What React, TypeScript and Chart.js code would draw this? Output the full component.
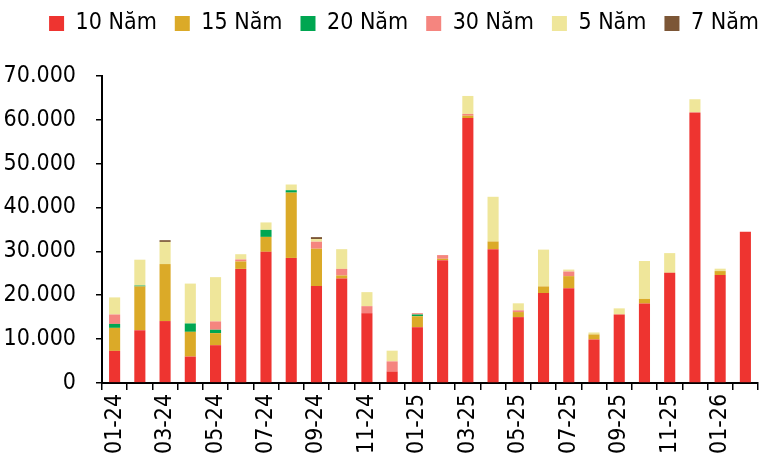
import React, { useEffect, useRef } from "react";
import { Chart, registerables } from "chart.js";

Chart.register(...registerables);

const labels = [
  "01-24", "02-24", "03-24", "04-24", "05-24", "06-24", "07-24", "08-24", "09-24", "10-24", "11-24", "12-24",
  "01-25", "02-25", "03-25", "04-25", "05-25", "06-25", "07-25", "08-25", "09-25", "10-25", "11-25", "12-25",
  "01-26", "02-26",
];

const s10 = [7300, 12000, 14100, 6000, 8600, 26000, 29900, 28500, 22100, 23800, 15900, 2600, 12700, 28000, 60400, 30500, 15000, 20500, 21600, 9900, 15600, 18100, 25100, 61700, 24600, 34500];
const s15 = [5250, 10000, 13000, 5650, 2750, 1700, 3400, 14900, 8500, 700, 0, 0, 2500, 300, 550, 1750, 1150, 1500, 2750, 1150, 0, 1050, 0, 0, 900, 0];
const s20 = [900, 200, 0, 1900, 770, 0, 1600, 550, 0, 0, 0, 0, 400, 0, 0, 0, 0, 0, 0, 0, 0, 0, 0, 0, 0, 0];
const s30 = [2150, 0, 0, 0, 1900, 450, 0, 0, 1600, 1500, 1600, 2300, 300, 850, 400, 0, 400, 0, 1050, 0, 0, 0, 0, 0, 0, 0];
const s5 = [3900, 5900, 5050, 9100, 10100, 1200, 1700, 1300, 600, 4500, 3200, 2450, 0, 0, 4100, 10200, 1600, 8400, 450, 450, 1400, 8650, 4500, 3000, 550, 0];
const s7 = [0, 0, 400, 0, 0, 0, 0, 0, 450, 0, 0, 0, 0, 0, 0, 0, 0, 0, 0, 0, 0, 0, 0, 0, 0, 0];

const seriesNames = ["10 Năm", "15 Năm", "20 Năm", "30 Năm", "5 Năm", "7 Năm"];
const seriesData = [s10, s15, s20, s30, s5, s7];
const seriesColors = ["#EE3430", "#DBAA28", "#00A651", "#F5857F", "#EFE69A", "#7C5636"];

const FONT = "'DejaVu Sans Condensed', 'Liberation Sans Narrow', Lato, sans-serif";

const legendSpacing = {
  id: "legendSpacing",
  beforeInit(chart: any) {
    const lg = chart.legend;
    const orig = lg.fit;
    lg.fit = function () {
      this.maxWidth = 900;
      orig.bind(lg)();
      this.height += 25;
    };
  },
  afterLayout(chart: any) {
    const lg = chart.legend;
    lg.top -= 6;
    lg.bottom -= 6;
    lg.left = 5 + 19;
    lg.right = 758 + 19;
  },
};

export default function App() {
  const ref = useRef<HTMLCanvasElement>(null);
  useEffect(() => {
    document.body.style.margin = "0";
    const chart = new Chart(ref.current!, {
      type: "bar",
      data: {
        labels,
        datasets: seriesData.map((d, i) => ({
          label: seriesNames[i],
          data: d,
          backgroundColor: seriesColors[i],
          borderWidth: 0,
          barPercentage: 0.44,
          categoryPercentage: 1,
        })),
      },
      options: {
        animation: false,
        responsive: false,
        maintainAspectRatio: false,
        layout: { padding: { left: 4, right: 5, top: 0, bottom: 3 } },
        plugins: {
          tooltip: { enabled: false },
          legend: {
            position: "top",
            align: "end",
            labels: {
              boxWidth: 15,
              boxHeight: 15,
              padding: 18,
              color: "#000",
              font: { family: FONT, size: 23 },
            },
          },
        },
        scales: {
          x: {
            stacked: true,
            afterFit: (s: any) => {
              s.paddingLeft = 0;
              s.paddingRight = 0;
            },
            grid: { display: true, drawOnChartArea: false, drawTicks: true, tickLength: 7, color: "#000", lineWidth: 1.5, offset: true },
            border: { display: true, color: "#000", width: 2 },
            ticks: {
              autoSkip: false,
              maxRotation: 90,
              minRotation: 90,
              padding: 4,
              color: "#000",
              font: { family: FONT, size: 23 },
              callback: (_v: any, i: number) => (i % 2 === 0 ? labels[i] : ""),
            },
          },
          y: {
            stacked: true,
            min: 0,
            max: 70000,
            afterFit: (s: any) => {
              s.width = 98;
            },
            grid: { display: true, drawOnChartArea: false, drawTicks: true, tickLength: 6, color: "#000", lineWidth: 1.5 },
            border: { display: true, color: "#000", width: 2 },
            ticks: {
              stepSize: 10000,
              padding: 20,
              color: "#000",
              font: { family: FONT, size: 23 },
              callback: (v: any) => Number(v).toLocaleString("de-DE"),
            },
          },
        },
      },
      plugins: [legendSpacing],
    });
    return () => chart.destroy();
  }, []);
  return (
    <div style={{ position: "absolute", left: 0, top: 0, width: 763, height: 461 }}>
      <canvas ref={ref} width={763} height={461} style={{ width: 763, height: 461 }} />
    </div>
  );
}
